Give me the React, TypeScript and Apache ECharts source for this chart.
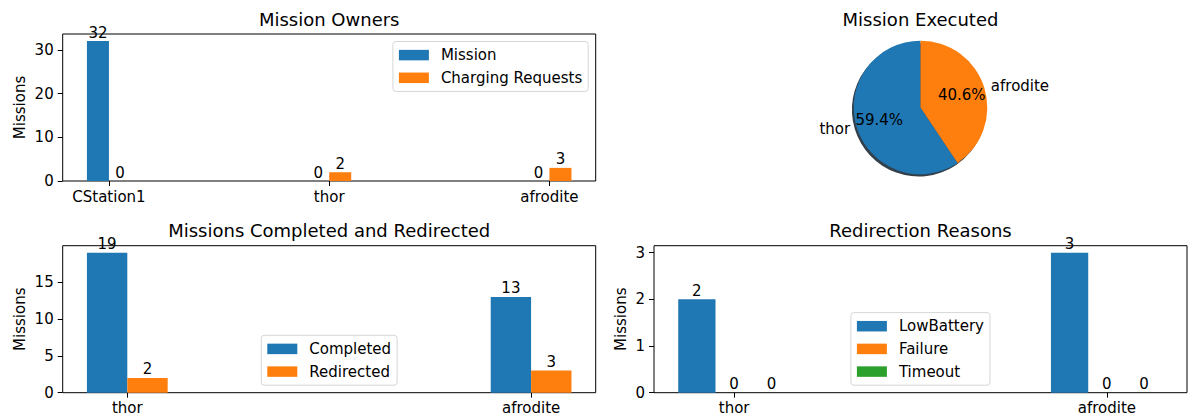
import React, { useEffect, useRef } from 'react';
import * as echarts from 'echarts';

const FONT = 'DejaVu Sans';
const BLUE = '#1f77b4';
const ORANGE = '#ff7f0e';
const GREEN = '#2ca02c';

// Mission Owners
const ownerCategories = ['CStation1', 'thor', 'afrodite'];
const ownerMissions = [32, 0, 0];
const ownerCharging = [0, 2, 3];
const ownerTicks = [0, 10, 20, 30];

// Mission Executed
const executedNames = ['thor', 'afrodite'];
const executedValues = [19, 13];

// Missions Completed and Redirected
const robotCategories = ['thor', 'afrodite'];
const completedValues = [19, 13];
const redirectedValues = [2, 3];
const completedTicks = [0, 5, 10, 15];

// Redirection Reasons
const lowBatteryValues = [2, 3];
const failureValues = [0, 0];
const timeoutValues = [0, 0];
const reasonTicks = [0, 1, 2, 3];

const BAR_W = 0.1;
const TICK_FONT = 15;

const textBase = { fontFamily: FONT, fontSize: TICK_FONT, color: '#000' };

function barSeries(name: string, values: number[], color: string, axis: number, offset: number) {
  return {
    type: 'custom',
    name,
    xAxisIndex: axis,
    yAxisIndex: axis,
    itemStyle: { color },
    data: values.map((v, i) => [i, v]),
    encode: { x: 0, y: 1 },
    silent: true,
    renderItem: (_params: any, api: any) => {
      const x = api.value(0) + offset;
      const v = api.value(1);
      const a = api.coord([x, v]);
      const b = api.coord([x + BAR_W, 0]);
      return {
        type: 'group',
        children: [
          {
            type: 'rect',
            shape: { x: a[0], y: a[1], width: b[0] - a[0], height: b[1] - a[1] },
            style: { fill: color },
          },
          {
            type: 'text',
            z2: 10,
            style: {
              text: String(v),
              x: (a[0] + b[0]) / 2,
              y: a[1] - 1,
              align: 'center',
              verticalAlign: 'bottom',
              fontFamily: FONT,
              fontSize: TICK_FONT,
              fill: '#000',
            },
          },
        ],
      };
    },
  };
}

function catAxis(grid: number, cats: string[], pad: number) {
  const idx = cats.map((_, i) => i);
  return {
    gridIndex: grid,
    type: 'value',
    min: -pad,
    max: cats.length - 1 + pad,
    axisLine: { show: false, onZero: false },
    splitLine: { show: false },
    axisTick: { show: true, customValues: idx, length: 5, lineStyle: { color: '#000', width: 1 } },
    axisLabel: {
      customValues: idx,
      formatter: (v: number) => cats[Math.round(v)] ?? '',
      margin: 8,
      ...textBase,
    },
  };
}

function valAxis(grid: number, maxVal: number, ticks: number[], nameGap: number) {
  return {
    gridIndex: grid,
    type: 'value',
    min: 0,
    max: maxVal * 1.05,
    name: 'Missions',
    nameLocation: 'middle',
    nameGap,
    nameTextStyle: { ...textBase },
    axisLine: { show: false, onZero: false },
    splitLine: { show: false },
    axisTick: { show: true, customValues: ticks, length: 5, lineStyle: { color: '#000', width: 1 } },
    axisLabel: { customValues: ticks, margin: 9, ...textBase },
  };
}

function legend(names: string[], pos: Record<string, number>) {
  return {
    orient: 'vertical',
    ...pos,
    data: names,
    icon: 'rect',
    itemWidth: 30,
    itemHeight: 10.5,
    itemGap: 7.7,
    padding: [6.1, 6, 6.1, 6],
    backgroundColor: 'rgba(255,255,255,0.8)',
    borderColor: 'rgba(204,204,204,0.8)',
    borderWidth: 1,
    borderRadius: 3,
    selectedMode: false,
    textStyle: { ...textBase, padding: [0, 0, 0, 7] },
  };
}

function title(text: string, cx: number, top: number) {
  return {
    text,
    left: cx,
    top,
    textAlign: 'center',
    padding: 0,
    textStyle: { fontFamily: FONT, fontSize: 18, fontWeight: 'normal', color: '#000' },
  };
}

const PIE_C = [920.5, 107.5];
const PIE_R = 66.8;

export default function App() {
  const ref = useRef<HTMLDivElement>(null);

  useEffect(() => {
    if (!ref.current) return;
    const chart = echarts.init(ref.current, undefined, { renderer: 'svg' });
    const gridBase = { show: true, borderColor: '#000', borderWidth: 1, backgroundColor: 'transparent', containLabel: false };
    const pieData = executedNames.map((n, i) => ({ name: n, value: executedValues[i], itemStyle: { color: [BLUE, ORANGE][i] } }));

    chart.setOption({
      animation: false,
      title: [
        title('Mission Owners', 329.2, 10),
        title('Mission Executed', 920.5, 10),
        title('Missions Completed and Redirected', 329.2, 221.7),
        title('Redirection Reasons', 920.5, 221.7),
      ],
      grid: [
        { ...gridBase, left: 62.7, top: 34, width: 533, height: 147 },
        { ...gridBase, left: 62.7, top: 245.7, width: 533, height: 147 },
        { ...gridBase, left: 654, top: 245.7, width: 533, height: 147 },
      ],
      xAxis: [
        catAxis(0, ownerCategories, 0.21),
        catAxis(1, robotCategories, 0.16),
        catAxis(2, robotCategories, 0.215),
      ],
      yAxis: [
        valAxis(0, Math.max(...ownerMissions, ...ownerCharging), ownerTicks, 35),
        valAxis(1, Math.max(...completedValues, ...redirectedValues), completedTicks, 35),
        valAxis(2, Math.max(...lowBatteryValues, ...failureValues, ...timeoutValues), reasonTicks, 25.5),
      ],
      legend: [
        legend(['Mission', 'Charging Requests'], { right: 600.8, top: 41.5 }),
        legend(['Completed', 'Redirected'], { left: 261.3, top: 335.3 }),
        legend(['LowBattery', 'Failure', 'Timeout'], { left: 850.9, top: 312.6 }),
      ],
      series: [
        barSeries('Mission', ownerMissions, BLUE, 0, -BAR_W),
        barSeries('Charging Requests', ownerCharging, ORANGE, 0, 0),
        barSeries('Completed', completedValues, BLUE, 1, -BAR_W),
        barSeries('Redirected', redirectedValues, ORANGE, 1, 0),
        barSeries('LowBattery', lowBatteryValues, BLUE, 2, -1.5 * BAR_W),
        barSeries('Failure', failureValues, ORANGE, 2, -0.5 * BAR_W),
        barSeries('Timeout', timeoutValues, GREEN, 2, 0.5 * BAR_W),
        // drop shadow under the pie
        {
          type: 'pie',
          z: 1,
          silent: true,
          center: [PIE_C[0] - 1.8, PIE_C[1] + 2.2],
          radius: PIE_R,
          startAngle: 90,
          clockwise: false,
          data: executedValues.map((v, i) => ({ name: executedNames[i], value: v })),
          itemStyle: { color: 'rgba(14,30,45,0.85)' },
          label: { show: false },
          labelLine: { show: false },
          emphasis: { disabled: true },
        },
        {
          type: 'pie',
          z: 2,
          silent: true,
          center: PIE_C,
          radius: PIE_R,
          startAngle: 90,
          clockwise: false,
          avoidLabelOverlap: false,
          data: pieData,
          label: {
            show: true,
            position: 'outside',
            formatter: '{b}',
            distanceToLabelLine: 0,
            ...textBase,
          },
          labelLine: { show: false, length: PIE_R * 0.1, length2: 0 },
          emphasis: { disabled: true },
        },
        // percentage labels at 0.6 of the radius
        {
          type: 'pie',
          z: 3,
          silent: true,
          center: PIE_C,
          radius: [0, PIE_R * 1.2],
          startAngle: 90,
          clockwise: false,
          avoidLabelOverlap: false,
          data: executedValues.map((v, i) => ({ name: executedNames[i], value: v })),
          itemStyle: { color: 'rgba(0,0,0,0)' },
          label: {
            show: true,
            position: 'inside',
            formatter: (p: any) => `${p.percent.toFixed(1)}%`,
            ...textBase,
          },
          labelLine: { show: false },
          emphasis: { disabled: true },
        },
      ],
    } as any);

    return () => chart.dispose();
  }, []);

  return (
    <div
      ref={ref}
      style={{ position: 'absolute', left: 0, top: 0, width: 1189, height: 418, background: '#fff' }}
    />
  );
}
